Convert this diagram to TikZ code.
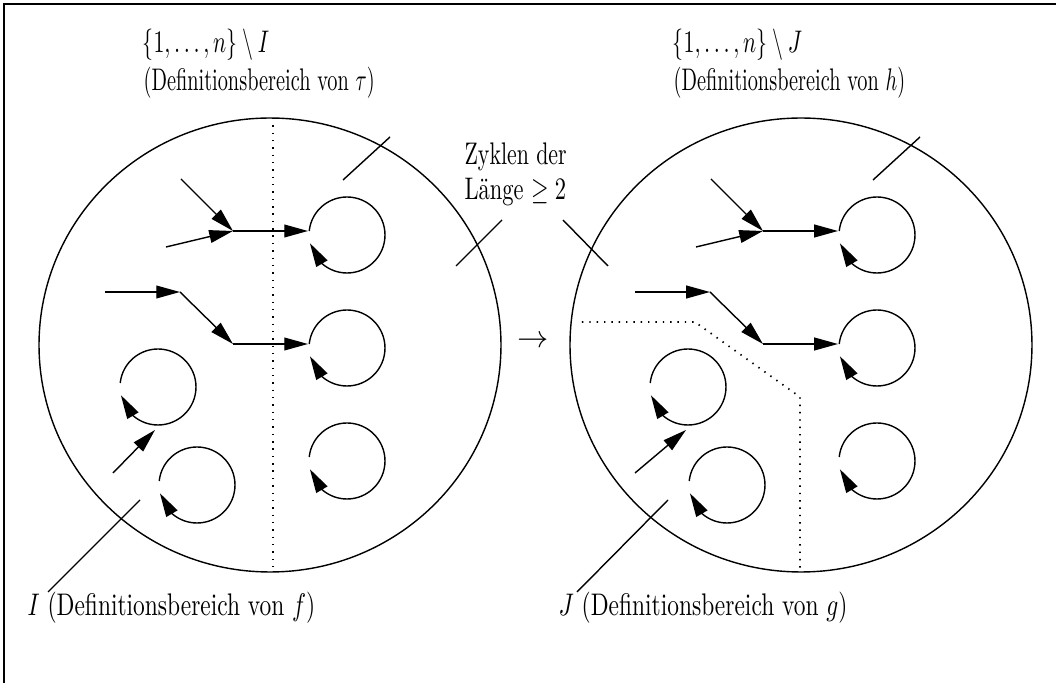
\documentclass[tikz,border=0pt]{standalone}
\usepackage{graphicx}
\usetikzlibrary{arrows.meta,bending}
\begin{document}
\begin{tikzpicture}[x=0.32pt,y=0.32pt,
  ln/.style={line width=0.45pt},
  arr/.style={ln,-{Triangle[length=7.6pt,width=4.1pt]}},
  dots/.style={line width=0.55pt, dash pattern=on 0.45pt off 1.9pt},
  lbl/.style={anchor=base west, inner sep=0pt},
  cyc/.pic={\draw[arr] (174:12.16pt) arc[start angle=174,end angle=-167.5,radius=12.16pt];}]
\useasboundingbox (0,0) rectangle (1056,683);
% frame
\draw[ln] (4,0) -- (4,679) -- (1056,679);
% big circles
\coordinate (CL) at (270,338);
\coordinate (CR) at (801,338);
\draw[ln] (CL) ellipse [x radius=73.92pt, y radius=72.64pt];
\draw[ln] (CR) ellipse [x radius=73.92pt, y radius=72.64pt];
% ---------- left circle ----------
\draw[dots] (273,565) -- (273,111);
\coordinate (lA1) at (181,504); \coordinate (lA2) at (166,436);
\coordinate (lJ1) at (233,452); \coordinate (lE1) at (308,452);
\coordinate (lA4) at (105,391); \coordinate (lJ2) at (180,391);
\coordinate (lJ3) at (233,339); \coordinate (lE2) at (308,339);
\coordinate (lA7) at (113,210); \coordinate (lE7) at (155,253);
\draw[arr] (lA1) -- (lJ1);
\draw[arr] (lA2) -- (lJ1);
\draw[arr] (lJ1) -- (lE1);
\draw[arr] (lA4) -- (lJ2);
\draw[arr] (lJ2) -- (lJ3);
\draw[arr] (lJ3) -- (lE2);
\draw[arr] (lA7) -- (lE7);
\pic (lL1) at (347,448) {cyc};
\pic (lL2) at (347,335) {cyc};
\pic (lL3) at (347,222) {cyc};
\pic (lL4) at (158,296) {cyc};
\pic (lL5) at (197,198) {cyc};
% ---------- right circle ----------
\draw[dots] (582,361) -- (695,361) -- (800,286) -- (800,111);
\coordinate (rA1) at (711,504); \coordinate (rA2) at (696,436);
\coordinate (rJ1) at (763,452); \coordinate (rE1) at (838,452);
\coordinate (rA4) at (635,391); \coordinate (rJ2) at (710,391);
\coordinate (rJ3) at (763,339); \coordinate (rE2) at (838,339);
\coordinate (rA7) at (635,210); \coordinate (rE7) at (686,253);
\draw[arr] (rA1) -- (rJ1);
\draw[arr] (rA2) -- (rJ1);
\draw[arr] (rJ1) -- (rE1);
\draw[arr] (rA4) -- (rJ2);
\draw[arr] (rJ2) -- (rJ3);
\draw[arr] (rJ3) -- (rE2);
\draw[arr] (rA7) -- (rE7);
\pic (rL1) at (877,448) {cyc};
\pic (rL2) at (877,335) {cyc};
\pic (rL3) at (877,222) {cyc};
\pic (rL4) at (688,296) {cyc};
\pic (rL5) at (727,198) {cyc};
% ---------- labels ----------
\node[lbl] (tl1) at (142,630) {\scalebox{0.7}[1]{$\{1,\ldots,n\}\setminus I$}};
\node[lbl] (tl2) at (143,592) {\scalebox{0.65}[1]{(Definitionsbereich von $\tau$)}};
\node[lbl] (tr1) at (672,630) {\scalebox{0.7}[1]{$\{1,\ldots,n\}\setminus J$}};
\node[lbl] (tr2) at (673,592) {\scalebox{0.65}[1]{(Definitionsbereich von $h$)}};
\node[lbl] (z1) at (464,518) {\scalebox{0.7}[1]{Zyklen der}};
\node[lbl] (z2) at (464,483) {\scalebox{0.72}[1]{L\"ange $\geq 2$}};
\node[lbl] (bl) at (27,67) {\scalebox{0.75}[1]{$I$ (Definitionsbereich von $f$)}};
\node[lbl] (br) at (558,67) {\scalebox{0.75}[1]{$J$ (Definitionsbereich von $g$)}};
\node (to) at (533,341) {$\to$};
% pointer lines
\coordinate (pT1) at (343,503); \coordinate (pT2) at (390,546);
\coordinate (pH1) at (873,503); \coordinate (pH2) at (920,546);
\coordinate (pZ1) at (456,417); \coordinate (pZ2) at (502,463);
\coordinate (pZ3) at (563,463); \coordinate (pZ4) at (608,417);
\coordinate (pI1) at (48,91);  \coordinate (pI2) at (140,183);
\coordinate (pJ1) at (577,91); \coordinate (pJ2) at (668,183);
\draw[ln] (pT1) -- (pT2);
\draw[ln] (pH1) -- (pH2);
\draw[ln] (pZ1) -- (pZ2);
\draw[ln] (pZ3) -- (pZ4);
\draw[ln] (pI1) -- (pI2);
\draw[ln] (pJ1) -- (pJ2);
\end{tikzpicture}
\end{document}
